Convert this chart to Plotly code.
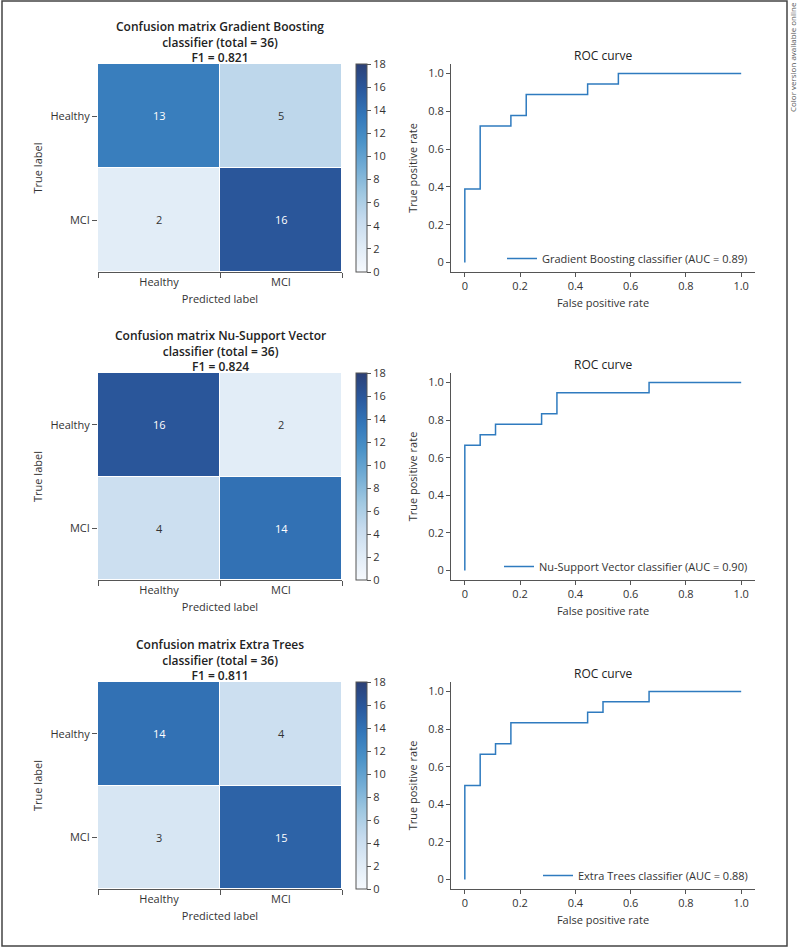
import plotly.graph_objects as go

# ---------------- data ----------------
class_labels = ["Healthy", "MCI"]
model_names = ["Gradient Boosting", "Nu-Support Vector", "Extra Trees"]
f1_scores = ["0.821", "0.824", "0.811"]
totals = [36, 36, 36]
auc_values = ["0.89", "0.90", "0.88"]

cm_gb = [[13, 5], [2, 16]]
cm_nusvc = [[16, 2], [4, 14]]
cm_et = [[14, 4], [3, 15]]

fpr_gb = [0, 0, 0.0556, 0.0556, 0.1667, 0.1667, 0.2222, 0.2222, 0.4444, 0.4444, 0.5556, 0.5556, 1.0]
tpr_gb = [0, 0.3889, 0.3889, 0.7222, 0.7222, 0.7778, 0.7778, 0.8889, 0.8889, 0.9444, 0.9444, 1.0, 1.0]

fpr_nusvc = [0, 0, 0.0556, 0.0556, 0.1111, 0.1111, 0.2778, 0.2778, 0.3333, 0.3333, 0.6667, 0.6667, 1.0]
tpr_nusvc = [0, 0.6667, 0.6667, 0.7222, 0.7222, 0.7778, 0.7778, 0.8333, 0.8333, 0.9444, 0.9444, 1.0, 1.0]

fpr_et = [0, 0, 0.0556, 0.0556, 0.1111, 0.1111, 0.1667, 0.1667, 0.4444, 0.4444, 0.5, 0.5, 0.6667, 0.6667, 1.0]
tpr_et = [0, 0.5, 0.5, 0.6667, 0.6667, 0.7222, 0.7222, 0.8333, 0.8333, 0.8889, 0.8889, 0.9444, 0.9444, 1.0, 1.0]

colorbar_ticks = list(range(0, 19, 2))
roc_tickvals = [0, 0.2, 0.4, 0.6, 0.8, 1.0]
roc_ticktext = ["0", "0.2", "0.4", "0.6", "0.8", "1.0"]

cms = [cm_gb, cm_nusvc, cm_et]
fprs = [fpr_gb, fpr_nusvc, fpr_et]
tprs = [tpr_gb, tpr_nusvc, tpr_et]

# ---------------- style / layout ----------------
W, H = 798, 948
FONT = "Open Sans"
TXT = "#333333"
AX = "#555555"
LINE_C = "#2f7bbf"
blues = [
    [0.0, "rgb(246,249,253)"],
    [0.125, "rgb(223,235,246)"],
    [0.25, "rgb(198,219,238)"],
    [0.375, "rgb(160,200,225)"],
    [0.5, "rgb(116,173,213)"],
    [0.625, "rgb(76,147,200)"],
    [0.75, "rgb(52,120,186)"],
    [0.875, "rgb(42,89,158)"],
    [1.0, "rgb(44,64,118)"],
]
rows_px = [(64, 272), (373, 580), (682, 889)]
hm_px = (98, 342)
roc_px = (451, 755)
cb_left = 356


def px_x(v):
    return v / W


def px_y(v):
    return 1 - v / H


fig = go.Figure()
annotations = []
layout_axes = {}

for i in range(3):
    top, bot = rows_px[i]
    ydom = [px_y(bot), px_y(top)]
    hx = 2 * i + 1
    rx = 2 * i + 2
    hxs = "" if hx == 1 else str(hx)
    rxs = str(rx)
    cm = cms[i]

    fig.add_trace(go.Heatmap(
        z=cm, x=class_labels, y=class_labels,
        xaxis="x" + hxs, yaxis="y" + hxs,
        colorscale=blues, zmin=0, zmax=18, xgap=1, ygap=1,
        hoverinfo="skip",
        colorbar=dict(
            x=px_x(cb_left), xanchor="left", xpad=0, ypad=0,
            y=px_y((top + bot) / 2), yanchor="middle",
            lenmode="pixels", len=bot - top,
            thicknessmode="pixels", thickness=11,
            outlinecolor=AX, outlinewidth=1,
            ticks="outside", ticklen=4, tickcolor=AX,
            tickvals=colorbar_ticks,
            tickfont=dict(family=FONT, size=11, color=TXT),
        ),
    ))
    # cell numbers
    for r, tl in enumerate(class_labels):
        for c, pl in enumerate(class_labels):
            v = cm[r][c]
            annotations.append(dict(
                x=pl, y=tl, xref="x" + hxs, yref="y" + hxs, text=str(v),
                showarrow=False,
                font=dict(family=FONT, size=11, color="white" if v > 9 else TXT),
            ))
    layout_axes["xaxis" + hxs] = dict(
        domain=[px_x(hm_px[0]), px_x(hm_px[1])], anchor="y" + hxs,
        type="category", range=[-0.5, 1.5], tickson="boundaries",
        ticks="outside", ticklen=5, tickcolor=AX, showline=True, linecolor=AX, linewidth=1,
        showgrid=False, zeroline=False,
        tickfont=dict(family=FONT, size=11, color=TXT),
        title=dict(text="Predicted label", standoff=7, font=dict(family=FONT, size=11, color=TXT)),
    )
    layout_axes["yaxis" + hxs] = dict(
        domain=ydom, anchor="x" + hxs,
        type="category", range=[1.5, -0.5],
        ticks="outside", ticklen=5, tickcolor=AX, showline=False,
        showgrid=False, zeroline=False,
        tickfont=dict(family=FONT, size=11, color=TXT),
        title=dict(text="True label", standoff=5, font=dict(family=FONT, size=11, color=TXT)),
    )
    annotations.append(dict(
        xref="x" + hxs + " domain", yref="y" + hxs + " domain", x=0.5, y=1,
        xanchor="center", yanchor="bottom", yshift=-4, showarrow=False,
        text="Confusion matrix " + model_names[i] + "<br>classifier (total = %d)<br>F1 = %s" % (totals[i], f1_scores[i]),
        font=dict(family=FONT, size=12, color="#222222", weight=600),
    ))

    # ROC
    leg = "legend" if i == 0 else "legend%d" % (i + 1)
    fig.add_trace(go.Scatter(
        x=fprs[i], y=tprs[i], mode="lines",
        xaxis="x" + rxs, yaxis="y" + rxs,
        line=dict(color=LINE_C, width=1.5),
        name=model_names[i] + " classifier (AUC = " + auc_values[i] + ")",
        legend=leg, showlegend=True, hoverinfo="skip",
    ))
    layout_axes["xaxis" + rxs] = dict(
        domain=[px_x(roc_px[0]), px_x(roc_px[1])], anchor="y" + rxs,
        range=[-0.05, 1.05], tickvals=roc_tickvals, ticktext=roc_ticktext,
        ticks="outside", ticklen=4, tickcolor=AX, showline=True, linecolor=AX, linewidth=1,
        showgrid=False, zeroline=False,
        tickfont=dict(family=FONT, size=11, color=TXT),
        title=dict(text="False positive rate", standoff=7, font=dict(family=FONT, size=11, color=TXT)),
    )
    layout_axes["yaxis" + rxs] = dict(
        domain=ydom, anchor="x" + rxs,
        range=[-0.05, 1.05], tickvals=roc_tickvals, ticktext=roc_ticktext,
        ticks="outside", ticklen=4, tickcolor=AX, showline=True, linecolor=AX, linewidth=1,
        showgrid=False, zeroline=False,
        tickfont=dict(family=FONT, size=11, color=TXT),
        title=dict(text="True positive rate", standoff=8, font=dict(family=FONT, size=11, color=TXT)),
    )
    annotations.append(dict(
        xref="x" + rxs + " domain", yref="y" + rxs + " domain", x=0.5, y=1,
        xanchor="center", yanchor="bottom", yshift=-2, showarrow=False,
        text="ROC curve", font=dict(family=FONT, size=12, color="#222222"),
    ))
    layout_axes[leg] = dict(
        x=px_x(roc_px[1] - 2), xanchor="right", y=px_y(bot + 1), yanchor="bottom",
        bgcolor="rgba(0,0,0,0)", borderwidth=0, itemwidth=30,
        font=dict(family=FONT, size=11, color=TXT),
    )

annotations.append(dict(
    xref="paper", yref="paper", x=px_x(792), y=1, xanchor="center", yanchor="top",
    textangle=-90, showarrow=False, text="Color version available online",
    font=dict(family=FONT, size=8, color="#555555"),
))

fig.update_layout(
    width=W, height=H, margin=dict(l=0, r=0, t=0, b=0),
    paper_bgcolor="white", plot_bgcolor="white",
    annotations=annotations,
    shapes=[dict(type="rect", xref="paper", yref="paper",
                 x0=px_x(2), x1=px_x(787), y0=px_y(946), y1=px_y(1),
                 line=dict(color="#444444", width=1.5))],
    **layout_axes,
)

fig.write_html(
    "out.html",
    config={"displayModeBar": False},
    post_script="document.body.style.margin='0';document.body.style.padding='0';document.body.style.overflow='hidden';",
)
